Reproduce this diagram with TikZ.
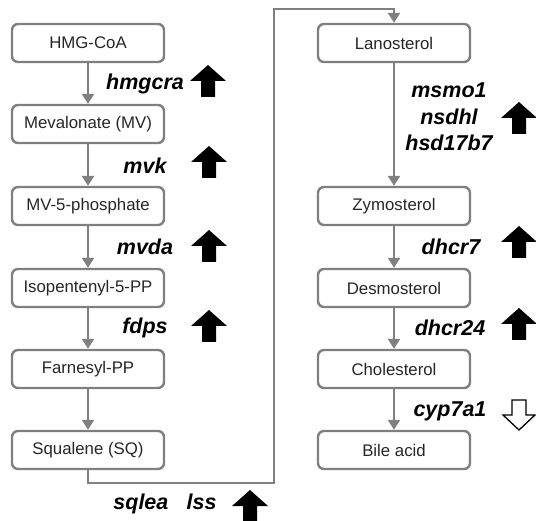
\documentclass[tikz,border=0pt]{standalone}
\usepackage{fontspec}
\setmainfont{Liberation Sans}
\usetikzlibrary{arrows.meta}
\definecolor{boxgray}{HTML}{7F7F7F}
\definecolor{linegray}{HTML}{808080}
\tikzset{
  metab/.style={draw=boxgray, line width=2.4pt, rounded corners=6pt,
    minimum width=152pt, minimum height=38pt, inner sep=0pt,
    font=\fontsize{16.8}{20}\selectfont, text=black!85},
  flow/.style={draw=linegray, line width=2.4pt,
    -{Triangle[width=12pt,length=10pt]}},
  gene/.style={font=\fontsize{21.5}{26.5}\selectfont\bfseries\itshape,
    inner sep=0pt, align=center},
  upreg/.pic={\fill[black] (-18,0) -- (0,-16) -- (18,0) -- (7,0) -- (7,16)
    -- (-7,16) -- (-7,0) -- cycle;},
  downreg/.pic={\draw[black, line width=1.3pt, line join=miter, fill=white]
    (-7,-15) -- (7,-15) -- (7,0) -- (16,0) -- (0,15) -- (-16,0) -- (-7,0) -- cycle;}
}
\begin{document}
\begin{tikzpicture}[x=1pt,y=-1pt]
\useasboundingbox (0,0) rectangle (536,521);

% left column
\node[metab] (hmg)  at (88,43)  {HMG-CoA};
\node[metab] (mv)   at (88,124) {Mevalonate (MV)};
\node[metab] (mv5p) at (88,206) {MV-5-phosphate};
\node[metab] (ipp)  at (88,288) {Isopentenyl-5-PP};
\node[metab] (fpp)  at (88,369) {Farnesyl-PP};
\node[metab] (sq)   at (88,450) {Squalene (SQ)};

% right column
\node[metab] (lano) at (394,43)  {Lanosterol};
\node[metab] (zymo) at (394,206) {Zymosterol};
\node[metab] (desm) at (394,288) {Desmosterol};
\node[metab] (chol) at (394,369) {Cholesterol};
\node[metab] (bile) at (394,450) {Bile acid};

% reaction steps
\draw[flow] (hmg.south) -- (mv.north);
\draw[flow] (mv.south) -- (mv5p.north);
\draw[flow] (mv5p.south) -- (ipp.north);
\draw[flow] (ipp.south) -- (fpp.north);
\draw[flow] (fpp.south) -- (sq.north);
\draw[flow] (lano.south) -- (zymo.north);
\draw[flow] (zymo.south) -- (desm.north);
\draw[flow] (desm.south) -- (chol.north);
\draw[flow] (chol.south) -- (bile.north);

% squalene to lanosterol, routed round the columns
\coordinate (sqlow) at (88,483);
\coordinate (turnlow) at (274,483);
\coordinate (turnhigh) at (274,9);
\coordinate (lanohigh) at (394,9);
\draw[flow] (sq.south) -- (sqlow) -- (turnlow)
  -- (turnhigh) -- (lanohigh) -- (lano.north);

% enzyme genes
\node[gene] (g1) at (145,84)  {hmgcra};
\node[gene] (g2) at (145,166) {mvk};
\node[gene] (g3) at (145,247) {mvda};
\node[gene] (g4) at (145,328) {fdps};
\node[gene] (g5) at (165,504) {sqlea\hspace{0.85em}lss};
\node[gene] (g6) at (449,117) {msmo1\\nsdhl\\hsd17b7};
\node[gene] (g7) at (451,247) {dhcr7};
\node[gene] (g8) at (450,328) {dhcr24};
\node[gene] (g9) at (450,411) {cyp7a1};

% expression changes
\pic at (208,81)  {upreg};
\pic at (209,162) {upreg};
\pic at (209,246) {upreg};
\pic at (209,326) {upreg};
\pic at (250,506) {upreg};
\pic at (519,118) {upreg};
\pic at (519,242) {upreg};
\pic at (519,324) {upreg};
\pic at (519,415) {downreg};
\end{tikzpicture}
\end{document}
